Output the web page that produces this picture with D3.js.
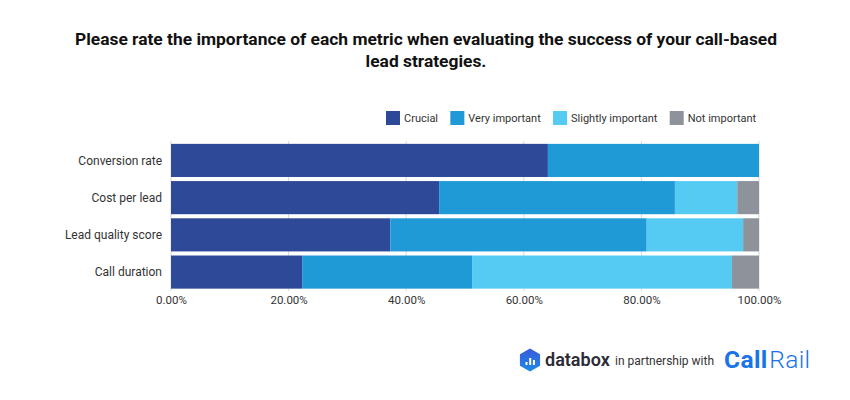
<!DOCTYPE html>
<html><head><meta charset="utf-8">
<script src="https://cdn.jsdelivr.net/npm/d3@7"></script>
<style>body{margin:0;background:#fff;} svg{display:block;font-family:Roboto,"Noto Sans",sans-serif;}</style>
</head><body>
<svg id="c" width="850" height="400"></svg>
<script>
const categories = ["Conversion rate", "Cost per lead", "Lead quality score", "Call duration"];
const seriesNames = ["Crucial", "Very important", "Slightly important", "Not important"];
const crucial = [64.1, 45.6, 37.3, 22.3];
const veryImportant = [35.9, 40.1, 43.6, 28.9];
const slightlyImportant = [0, 10.6, 16.4, 44.2];
const notImportant = [0, 3.7, 2.7, 4.6];
const colors = ["#2e4997", "#1f9ad6", "#55cbf3", "#8d929b"];
const tickValues = [0, 20, 40, 60, 80, 100];

const svg = d3.select("#c");

// title
const title = svg.append("text").attr("text-anchor", "middle").attr("font-weight", "700")
  .attr("font-size", 17.4).attr("fill", "#111");
title.append("tspan").attr("x", 426).attr("y", 45).text("Please rate the importance of each metric when evaluating the success of your call-based");
title.append("tspan").attr("x", 426).attr("y", 67).text("lead strategies.");

const data = categories.map((c, i) => ({cat: c, Crucial: crucial[i], "Very important": veryImportant[i], "Slightly important": slightlyImportant[i], "Not important": notImportant[i]}));
const stack = d3.stack().keys(seriesNames)(data);

const x = d3.scaleLinear().domain([0, 100]).range([171, 759]);
const y = d3.scaleBand().domain(categories).range([142, 290.5]).paddingInner(0.11).paddingOuter(0.05);
const color = d3.scaleOrdinal().domain(seriesNames).range(colors);

// gridlines
svg.append("g").selectAll("line").data(tickValues).join("line")
  .attr("x1", d => x(d)).attr("x2", d => x(d)).attr("y1", 141).attr("y2", 291)
  .attr("stroke", "#d9d9d9").attr("stroke-width", 1);

// bars
svg.append("g").selectAll("g").data(stack).join("g").attr("fill", d => color(d.key))
  .selectAll("rect").data(d => d).join("rect")
  .attr("x", d => x(d[0])).attr("width", d => Math.max(0, x(d[1]) - x(d[0])))
  .attr("y", d => y(d.data.cat)).attr("height", y.bandwidth());

// category labels
svg.append("g").selectAll("text").data(categories).join("text")
  .attr("x", 162).attr("y", d => y(d) + y.bandwidth() / 2).attr("dy", "0.35em")
  .attr("text-anchor", "end").attr("font-size", 12).attr("fill", "#333").text(d => d);

// x axis labels
const xAxis = d3.axisBottom(x).tickValues(tickValues).tickSize(0).tickPadding(0).tickFormat(d => d.toFixed(2) + "%");
const ax = svg.append("g").attr("transform", "translate(0,296)").call(xAxis);
ax.select(".domain").remove();
ax.selectAll("text").attr("font-size", 11.5).attr("fill", "#333").attr("font-family", "Roboto,sans-serif").attr("dy", "0.71em");

// legend
const lg = svg.append("g");
let lx = 386;
seriesNames.forEach((s, i) => {
  lg.append("rect").attr("x", lx).attr("y", 111).attr("width", 14).attr("height", 14).attr("fill", colors[i]);
  const t = lg.append("text").attr("x", lx + 18).attr("y", 118).attr("dy", "0.35em")
    .attr("font-size", 11).attr("fill", "#333").text(s);
  lx = lx + 18 + t.node().getComputedTextLength() + 12.3;
});

// footer logos
const f = svg.append("g");
const defs = svg.append("defs");
const gr = defs.append("linearGradient").attr("id", "dbg").attr("x1", 0).attr("y1", 0).attr("x2", 0).attr("y2", 1);
gr.append("stop").attr("offset", 0).attr("stop-color", "#3b5bdb");
gr.append("stop").attr("offset", 1).attr("stop-color", "#1e88e5");
const hx = 530, hy = 360, hr = 10.5;
const hexPts = d3.range(6).map(k => { const a = Math.PI / 3 * k + Math.PI / 6; return [hx + hr * Math.cos(a), hy + hr * Math.sin(a)]; });
f.append("path").attr("d", d3.line().curve(d3.curveLinearClosed)(hexPts)).attr("fill", "url(#dbg)")
  .attr("stroke", "url(#dbg)").attr("stroke-width", 2).attr("stroke-linejoin", "round");
[[-4.5, 3], [-0.8, 7], [2.9, 5]].forEach(([dx, h]) => {
  f.append("rect").attr("x", hx + dx).attr("y", hy + 5 - h).attr("width", 2).attr("height", h).attr("fill", "#fff");
});
f.append("text").attr("x", 545).attr("y", 366).attr("font-size", 18).attr("font-weight", 600).attr("fill", "#2b2b36").text("databox");
f.append("text").attr("x", 615).attr("y", 365).attr("font-size", 12).attr("fill", "#333").text("in partnership with");
const cr = f.append("text").attr("x", 724).attr("y", 367.5).attr("font-size", 24.5).attr("fill", "#1a73e8");
cr.append("tspan").attr("font-weight", 700).text("Call");
cr.append("tspan").attr("font-weight", 300).attr("dx", 1.5).text("Rail");
const crw = cr.node().getComputedTextLength();
cr.attr("letter-spacing", Math.max(0, Math.min(1, (85 - crw) / 8)));
</script>
</body></html>
